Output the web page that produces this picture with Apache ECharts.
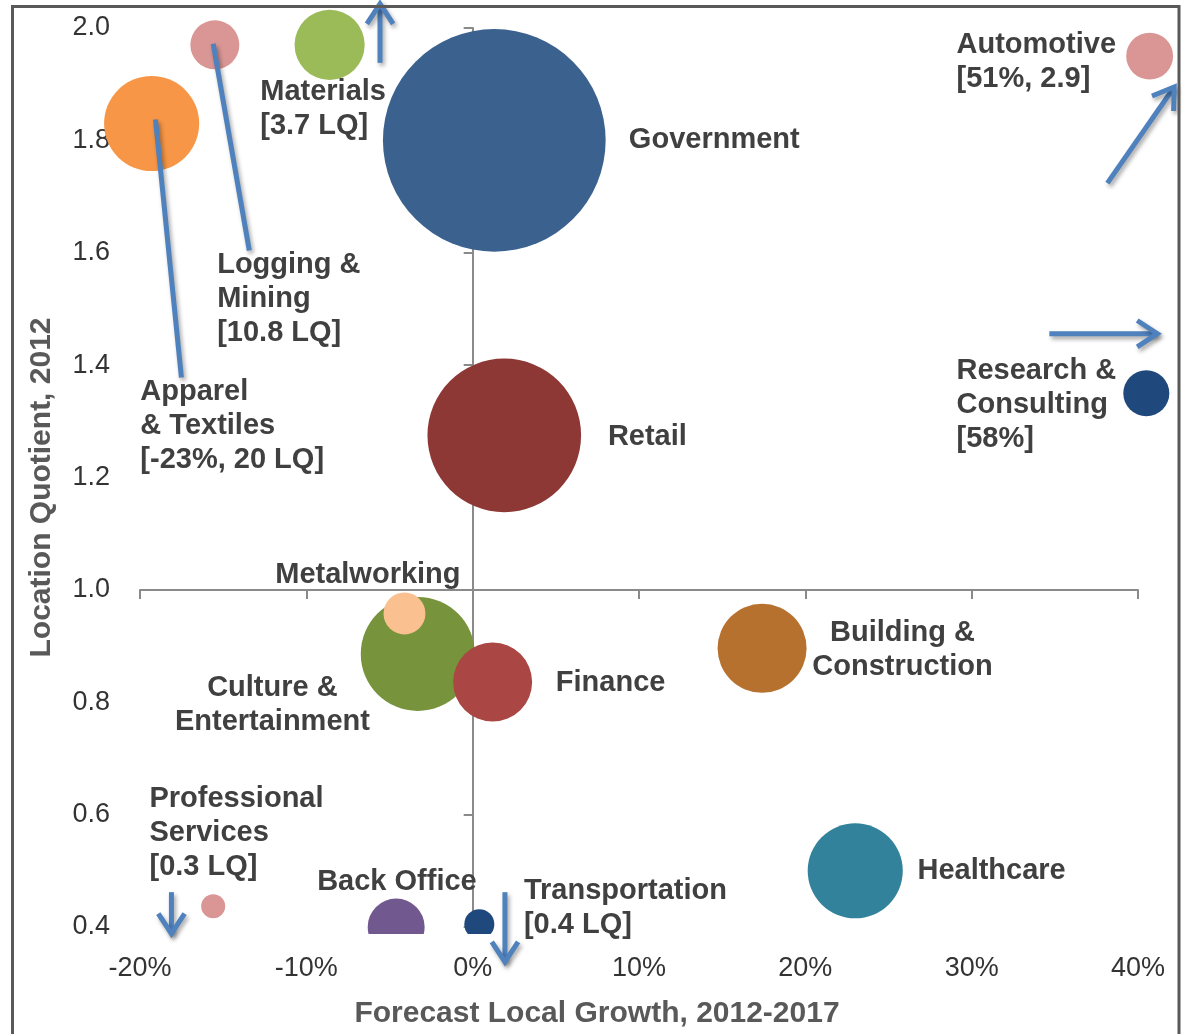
<!DOCTYPE html>
<html>
<head>
<meta charset="utf-8">
<title>Industry clusters: growth vs location quotient</title>
<script src="https://cdn.jsdelivr.net/npm/echarts@6/dist/echarts.min.js"></script>
<style>
  html, body { margin: 0; padding: 0; background: #fff; }
  #chart { width: 1188px; height: 1034px; }
</style>
</head>
<body>
<div id="chart"></div>
<script>
// bubble data: forecast growth (%), location quotient, employment (bubble size)
const industries = ['Government', 'Retail', 'Apparel & Textiles', 'Logging & Mining', 'Materials',
  'Automotive', 'Research & Consulting', 'Culture & Entertainment', 'Metalworking', 'Finance',
  'Building & Construction', 'Healthcare', 'Professional Services', 'Back Office', 'Transportation'];
const growth = [1.3, 1.9, -19.3, -15.5, -8.6, 40.7, 40.5, -3.3, -4.1, 1.2, 17.4, 23.0, -15.6, -4.6, 0.4];
const locationQuotient = [1.80, 1.275, 1.83, 1.97, 1.97, 1.95, 1.35, 0.886, 0.958, 0.836, 0.896, 0.50, 0.437, 0.40, 0.405];
const employment = [124, 59, 22.6, 6.0, 12.3, 5.5, 5.3, 32.5, 4.4, 15.6, 19.8, 22.6, 1.44, 8.1, 2.25];

// text labels, anchored in data units
const labelText = ['Government', 'Retail', 'Apparel\n& Textiles\n[-23%, 20 LQ]', 'Logging &\nMining\n[10.8 LQ]',
  'Materials\n[3.7 LQ]', 'Automotive\n[51%, 2.9]', 'Research &\nConsulting\n[58%]', 'Culture &\nEntertainment',
  'Metalworking', 'Finance', 'Building &\nConstruction', 'Healthcare', 'Professional\nServices\n[0.3 LQ]',
  'Back Office', 'Transportation\n[0.4 LQ]'];
const labelX = [9.39, 8.13, -19.98, -15.36, -12.77, 29.09, 29.09, -12.04, -11.87, 5.0, 25.84, 26.74, -19.43, -9.35, 3.08];
const labelY = [1.831, 1.303, 1.383, 1.609, 1.916, 2.0, 1.419, 0.855, 1.056, 0.864, 0.953, 0.530, 0.658, 0.510, 0.494];
const labelAlign = ['left', 'left', 'left', 'left', 'left', 'left', 'left', 'center', 'left', 'left', 'center', 'left', 'left', 'left', 'left'];

// pointer lines / off-scale arrows, in data units
const arrowFrom = [[-19.07, 1.837], [-15.6, 1.972], [-5.57, 1.938], [38.16, 1.724], [34.67, 1.456], [-18.11, 0.462], [1.94, 0.462]];
const arrowTo = [[-17.51, 1.378], [-13.43, 1.604], [-5.57, 2.043], [42.18, 1.895], [41.16, 1.456], [-18.11, 0.388], [1.94, 0.338]];
const arrowHead = [false, false, true, true, true, true, true];

// axis ticks
const xMin = -20, xMax = 40, xStep = 10;
const yMin = 0.4, yMax = 2.0, yStep = 0.2;
const yCross = 1.0;

const bubbleColors = ['#3B618F', '#8E3836', '#F79646', '#D99694', '#9BBB59', '#D99694', '#1F497D', '#77933C',
  '#FAC090', '#AA4643', '#B7712F', '#31829A', '#D99694', '#71588F', '#1F497D'];

const font = '"Liberation Sans", Arial, sans-serif';
const axisGray = '#8a8a8a';

const chart = echarts.init(document.getElementById('chart'));

const option = {
  animation: false,
  backgroundColor: '#fff',
  grid: { left: 140, top: 28, width: 998, height: 900 },
  xAxis: [
    {
      type: 'value', min: xMin, max: xMax, interval: xStep, position: 'bottom',
      axisLine: { show: false, onZero: false }, axisTick: { show: false }, splitLine: { show: false },
      axisLabel: { formatter: '{value}%', color: '#333', fontSize: 27, fontFamily: font, margin: 28 },
      name: 'Forecast Local Growth, 2012-2017', nameLocation: 'middle', nameGap: 72,
      nameTextStyle: { color: '#595959', fontSize: 30, fontWeight: 'bold', fontFamily: font, padding: [0, 84, 0, 0] }
    },
    {
      // crossing line at LQ = 1.0
      type: 'value', min: xMin, max: xMax, interval: xStep, position: 'top',
      axisLine: { show: true, onZero: true, onZeroAxisIndex: 2, lineStyle: { color: axisGray, width: 2 } },
      axisTick: { show: true, inside: true, length: 9, lineStyle: { color: axisGray, width: 2 } },
      axisLabel: { show: false }, splitLine: { show: false }
    }
  ],
  yAxis: [
    {
      type: 'value', min: yMin, max: yMax, interval: yStep, position: 'left',
      axisLine: { show: false, onZero: false }, axisTick: { show: false }, splitLine: { show: false },
      axisLabel: { formatter: v => v.toFixed(1), color: '#333', fontSize: 27, fontFamily: font, margin: 30 },
      name: 'Location Quotient, 2012', nameLocation: 'middle', nameGap: 83,
      nameTextStyle: { color: '#595959', fontSize: 30, fontWeight: 'bold', fontFamily: font, padding: [0, 20, 0, 0] }
    },
    {
      // crossing line at 0% growth
      type: 'value', min: yMin, max: yMax, interval: yStep, position: 'right',
      axisLine: { show: true, onZero: true, onZeroAxisIndex: 0, lineStyle: { color: axisGray, width: 2 } },
      axisTick: { show: true, inside: true, length: 9, lineStyle: { color: axisGray, width: 2 } },
      axisLabel: { show: false }, splitLine: { show: false }
    },
    {
      // helper axis shifted so its zero sits at LQ = 1.0
      type: 'value', min: yMin - yCross, max: yMax - yCross, show: false,
      axisLine: { onZero: false }
    }
  ],
  graphic: [{
    type: 'rect', silent: true, z: 100,
    shape: { x: 12.5, y: 6.5, width: 1166.5, height: 1100 },
    style: { fill: 'none', stroke: '#595959', lineWidth: 3 }
  }],
  series: [
    {
      type: 'custom',
      name: 'industries',
      xAxisIndex: 0, yAxisIndex: 0,
      clip: false,
      data: industries.map((n, i) => [growth[i], locationQuotient[i], employment[i]]),
      encode: { x: 0, y: 1 },
      renderItem: (params, api) => {
        const p = api.coord([api.value(0), api.value(1)]);
        const r = Math.sqrt(api.value(2)) * 10;
        const cs = params.coordSys;
        return {
          type: 'circle',
          shape: { cx: p[0], cy: p[1], r: r },
          style: { fill: bubbleColors[params.dataIndex] },
          clipPath: { type: 'rect', shape: { x: 0, y: 0, width: api.getWidth(), height: cs.y + cs.height + 7 } }
        };
      },
      z: 2
    },
    {
      type: 'custom',
      name: 'arrows',
      xAxisIndex: 0, yAxisIndex: 0,
      clip: false,
      data: arrowFrom.map((f, i) => [f[0], f[1], arrowTo[i][0], arrowTo[i][1]]),
      encode: { x: [0, 2], y: [1, 3] },
      renderItem: (params, api) => {
        const a = api.coord([api.value(0), api.value(1)]);
        const b = api.coord([api.value(2), api.value(3)]);
        const style = {
          stroke: '#4F81BD', lineWidth: 5, fill: null, lineJoin: 'miter',
          shadowColor: 'rgba(0,0,0,0.35)', shadowBlur: 4, shadowOffsetX: 2, shadowOffsetY: 3
        };
        const children = [{ type: 'line', shape: { x1: a[0], y1: a[1], x2: b[0], y2: b[1] }, style: style }];
        if (arrowHead[params.dataIndex]) {
          const ang = Math.atan2(b[1] - a[1], b[0] - a[0]);
          const len = 24, spread = 0.58;
          const p1 = [b[0] - len * Math.cos(ang - spread), b[1] - len * Math.sin(ang - spread)];
          const p2 = [b[0] - len * Math.cos(ang + spread), b[1] - len * Math.sin(ang + spread)];
          children.push({ type: 'polyline', shape: { points: [p1, b, p2] }, style: style });
        }
        return { type: 'group', children: children };
      },
      z: 3
    },
    {
      type: 'custom',
      name: 'labels',
      xAxisIndex: 0, yAxisIndex: 0,
      clip: false,
      data: labelX.map((x, i) => [x, labelY[i]]),
      encode: { x: 0, y: 1 },
      renderItem: (params, api) => {
        const p = api.coord([api.value(0), api.value(1)]);
        const i = params.dataIndex;
        return {
          type: 'text', x: p[0], y: p[1],
          style: {
            text: labelText[i], fill: '#404040', fontSize: 29, fontWeight: 'bold', fontFamily: font,
            align: labelAlign[i], verticalAlign: 'top', lineHeight: 34
          }
        };
      },
      z: 4
    }
  ]
};

chart.setOption(option);
</script>
</body>
</html>
